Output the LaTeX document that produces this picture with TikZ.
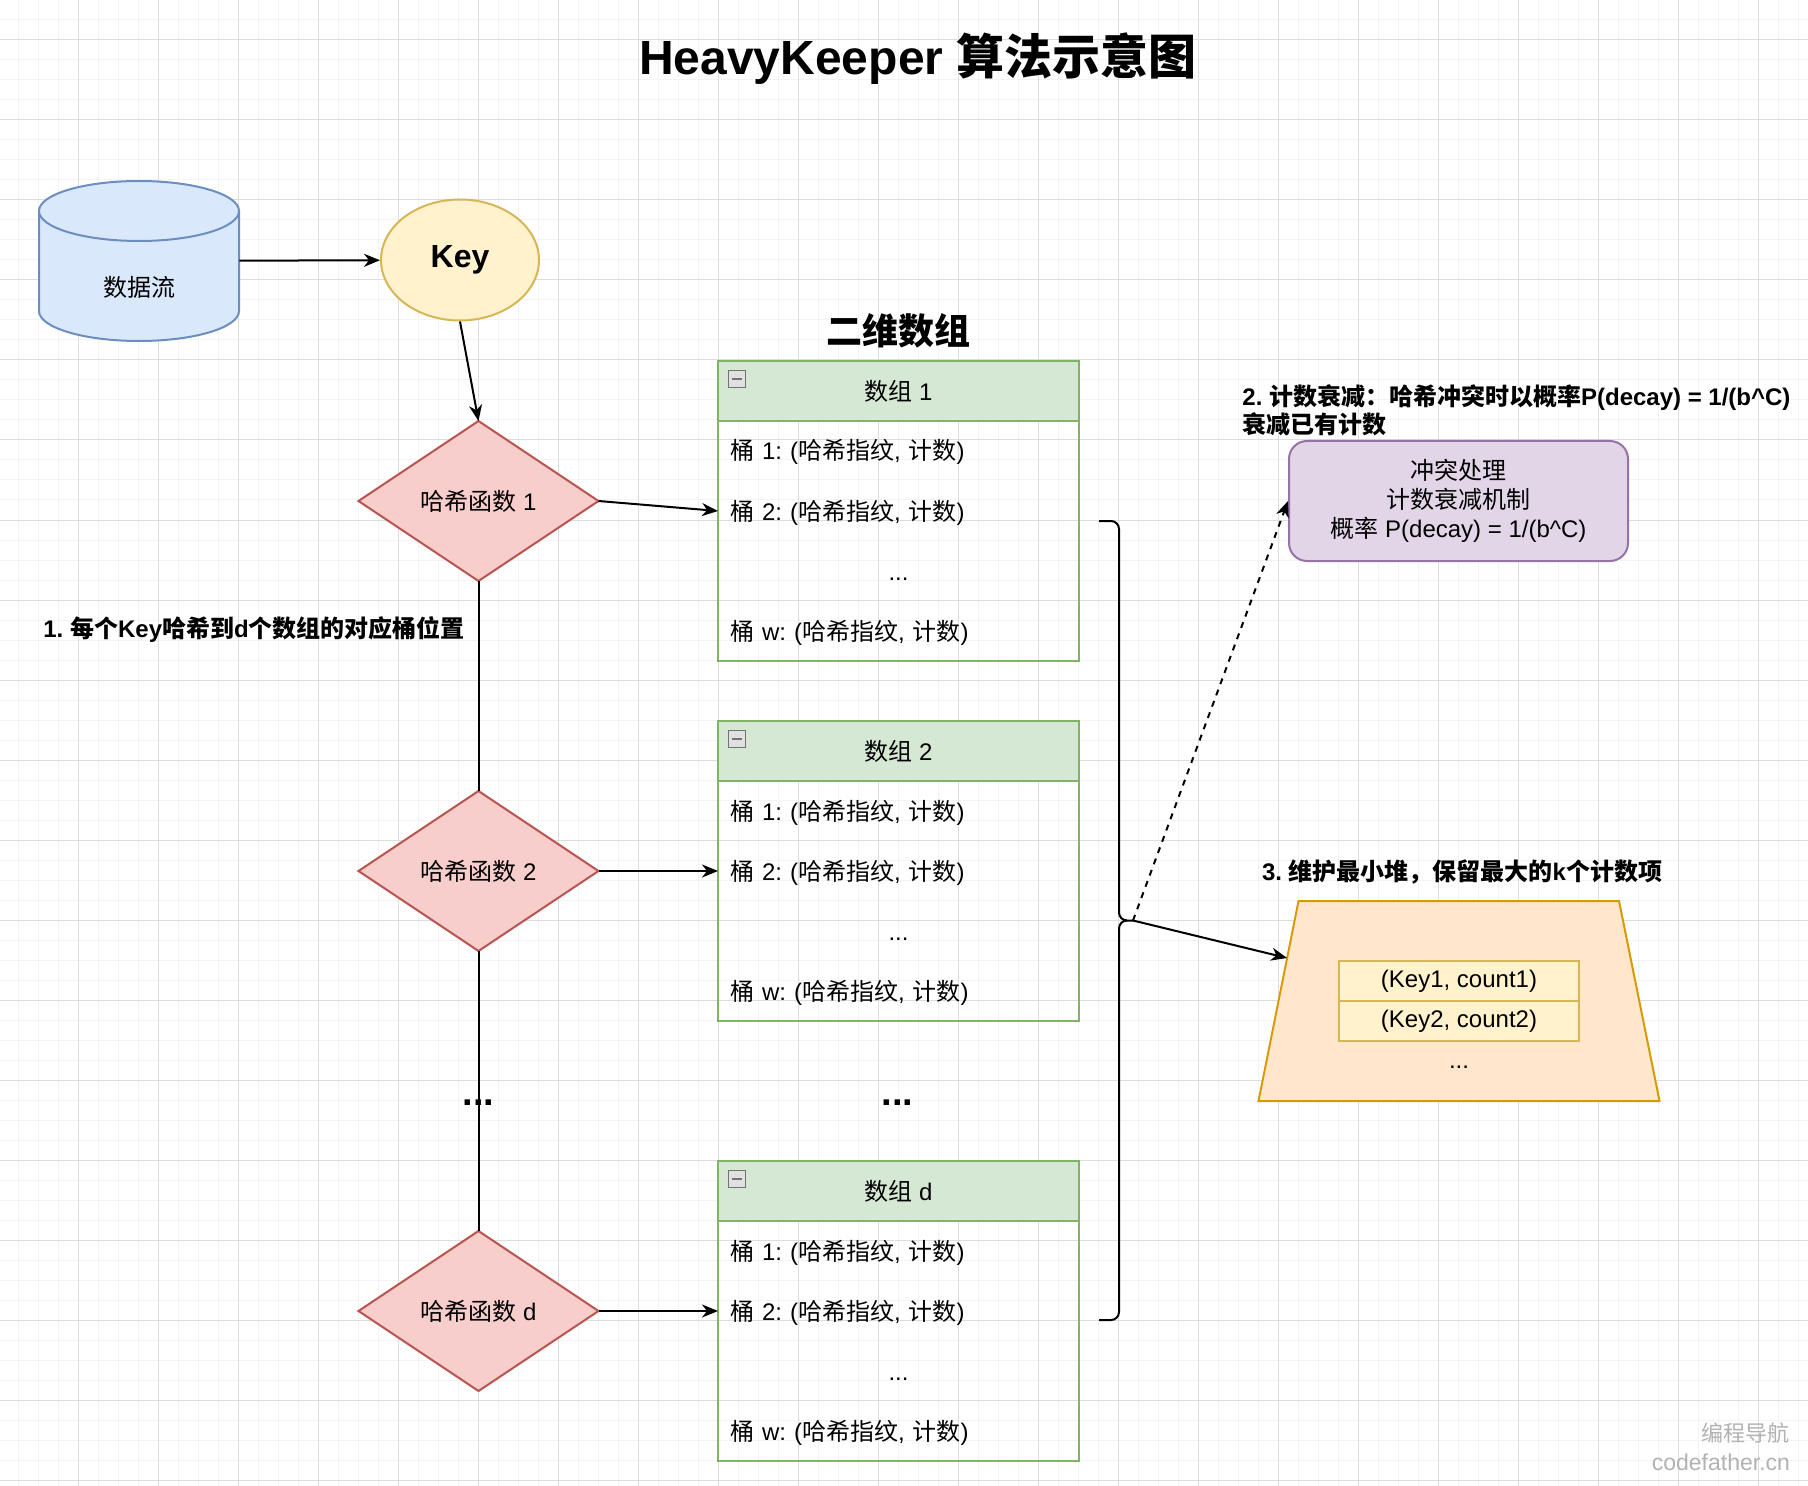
\documentclass[tikz,border=0pt]{standalone}
\usepackage{fontspec}
\setmainfont{Liberation Sans}
\newfontfamily\cjkfont{Noto Sans CJK SC}
\usepackage{tikz}
\usetikzlibrary{arrows.meta,positioning,shapes.geometric,calc}
\usepackage{xcolor}
\definecolor{streamFill}{RGB}{218,232,252}
\definecolor{streamLine}{RGB}{108,142,191}
\definecolor{keyFill}{RGB}{255,242,204}
\definecolor{keyLine}{RGB}{214,182,86}
\definecolor{hashFill}{RGB}{248,206,204}
\definecolor{hashLine}{RGB}{184,84,80}
\definecolor{arrFill}{RGB}{213,232,212}
\definecolor{arrLine}{RGB}{130,179,102}
\definecolor{decayFill}{RGB}{225,213,231}
\definecolor{decayLine}{RGB}{150,115,166}
\definecolor{heapFill}{RGB}{255,230,204}
\definecolor{heapLine}{RGB}{215,155,0}
\definecolor{gridMinor}{RGB}{243,243,243}
\definecolor{gridMajor}{RGB}{221,221,221}

% CJK runs in Noto Sans CJK SC, the rest in Liberation Sans
\XeTeXinterchartokenstate=1
\newXeTeXintercharclass\cjkclass
\newcount\cjkchar
\newcommand\cjkrange[2]{\cjkchar=#1\relax
  \loop\XeTeXcharclass\cjkchar=\cjkclass
  \ifnum\cjkchar<#2\relax\advance\cjkchar by 1\repeat}
\cjkrange{"3000}{"303F}
\cjkrange{"4E00}{"9FFF}
\cjkrange{"FF00}{"FFEF}
\XeTeXinterchartoks 0 \cjkclass={\begingroup\cjkfont}
\XeTeXinterchartoks 4095 \cjkclass={\begingroup\cjkfont}
\XeTeXinterchartoks \cjkclass 0={\endgroup}
\XeTeXinterchartoks \cjkclass 4095={\endgroup}

\begin{document}
\frenchspacing
\begin{tikzpicture}[
  x=0.5pt, y=0.5pt,
  font=\fontsize{12pt}{14.4pt}\selectfont,
  gridminor/.style={draw=gridMinor, line width=0.5pt},
  gridmajor/.style={draw=gridMajor, line width=0.5pt},
  keynode/.style={ellipse, draw=keyLine, fill=keyFill, line width=1pt, minimum width=79pt, minimum height=60.5pt,
                  inner sep=0pt, font=\fontsize{16pt}{19pt}\selectfont\bfseries},
  hashfn/.style={diamond, draw=hashLine, fill=hashFill, line width=1pt, minimum width=120pt, minimum height=80pt,
                 inner sep=0pt, outer sep=0pt},
  arrhead/.style={draw=arrLine, fill=arrFill, line width=1pt, minimum width=180.5pt, minimum height=30pt,
                  inner sep=0pt, outer sep=0pt},
  bucket/.style={minimum width=180.5pt, minimum height=30pt, text width=168.5pt, inner xsep=6pt, inner ysep=0pt,
                 outer sep=0pt, align=left, text height=11pt, text depth=2pt},
  minusbox/.style={draw=black!55, fill=black!12, line width=0.5pt, minimum size=8.5pt, inner sep=0pt,
                   path picture={\draw[line width=0.9pt] ([xshift=-2.6pt]path picture bounding box.center)
                                 -- ([xshift=2.6pt]path picture bounding box.center);}},
  decaybox/.style={draw=decayLine, fill=decayFill, line width=1pt, rounded corners=9pt, minimum width=169.5pt,
                   minimum height=60pt, align=center},
  heapshape/.style={draw=heapLine, fill=heapFill, line width=1pt},
  heapitem/.style={draw=keyLine, fill=keyFill, line width=1pt, minimum width=120pt, minimum height=20pt,
                   inner sep=0pt, outer sep=0pt},
  note/.style={font=\fontsize{12pt}{14pt}\selectfont\bfseries, inner sep=0pt, align=left},
  bigdots/.style={font=\fontsize{19pt}{22pt}\selectfont\bfseries, inner sep=0pt, anchor=base},
  arr/.style={-{Stealth[length=8pt, width=6.5pt, inset=2.5pt]}, line width=1pt, black},
  link/.style={line width=1pt, black}
]
\useasboundingbox (0,0) rectangle (1808,-1486);

% Background grid
\fill[white] (0,0) rectangle (1808,-1486);
\foreach \gx in {18.3,38.3,...,1808} \draw[gridminor] (\gx,0) -- (\gx,-1486);
\foreach \gy in {0,20,...,1486} \draw[gridminor] (0,-\gy) -- (1808,-\gy);
\foreach \gx in {78.3,158.3,...,1808} \draw[gridmajor] (\gx,0) -- (\gx,-1486);
\foreach \gy in {40,120,...,1486} \draw[gridmajor] (0,-\gy) -- (1808,-\gy);

% Title
\node[font=\fontsize{24pt}{28pt}\selectfont\bfseries] (title) at (918,-59) {HeavyKeeper 算法示意图};

% Data stream and key
\node[minimum width=100pt, minimum height=80pt, inner sep=0pt] (stream) at (139,-261) {};
\fill[streamFill] (39,-211) rectangle (239,-311);
\fill[streamFill] (139,-311) ellipse [x radius=50pt, y radius=15pt];
\draw[streamLine, line width=1pt] (39,-211) -- (39,-311) arc[start angle=180, end angle=360, x radius=50pt, y radius=15pt] -- (239,-211);
\draw[streamLine, line width=1pt, fill=streamFill] (139,-211) ellipse [x radius=50pt, y radius=15pt];
\node (streamtxt) at (139,-287) {数据流};
\node[keynode] (key) at (460,-260) {Key};

% Hash functions
\node[hashfn] (hash1) at (478.5,-501) {哈希函数 1};
\node[hashfn, below=105pt of hash1] (hash2) {哈希函数 2};
\node[hashfn, below=140pt of hash2] (hashd) {哈希函数 d};
\node[bigdots] (hashdots) at (478.5,-1105.5) {...};
\node[note, anchor=west] (step1) at (43,-630) {1. 每个Key哈希到d个数组的对应桶位置};

% Two-dimensional array
\node[font=\fontsize{18pt}{22pt}\selectfont\bfseries] (gridtitle) at (898,-331) {二维数组};

\node[arrhead] (arr1) at (898.5,-391) {数组 1};
\node[minusbox] (arr1min) at ($(arr1.north west)+(19,-18)$) {};
\node[bucket, below=0pt of arr1] (arr1b1) {桶 1: (哈希指纹, 计数)};
\node[bucket, below=0pt of arr1b1] (arr1b2) {桶 2: (哈希指纹, 计数)};
\node[bucket, below=0pt of arr1b2, align=center] (arr1b3) {...};
\node[bucket, below=0pt of arr1b3] (arr1bw) {桶 w: (哈希指纹, 计数)};
\draw[arrLine, line width=1pt] (arr1.south west) rectangle (arr1bw.south east);

\node[arrhead, below=30pt of arr1bw] (arr2) {数组 2};
\node[minusbox] (arr2min) at ($(arr2.north west)+(19,-18)$) {};
\node[bucket, below=0pt of arr2] (arr2b1) {桶 1: (哈希指纹, 计数)};
\node[bucket, below=0pt of arr2b1] (arr2b2) {桶 2: (哈希指纹, 计数)};
\node[bucket, below=0pt of arr2b2, align=center] (arr2b3) {...};
\node[bucket, below=0pt of arr2b3] (arr2bw) {桶 w: (哈希指纹, 计数)};
\draw[arrLine, line width=1pt] (arr2.south west) rectangle (arr2bw.south east);

\node[bigdots] (arrdots) at (897.5,-1105.5) {...};

\node[arrhead, below=70pt of arr2bw] (arrd) {数组 d};
\node[minusbox] (arrdmin) at ($(arrd.north west)+(19,-18)$) {};
\node[bucket, below=0pt of arrd] (arrdb1) {桶 1: (哈希指纹, 计数)};
\node[bucket, below=0pt of arrdb1] (arrdb2) {桶 2: (哈希指纹, 计数)};
\node[bucket, below=0pt of arrdb2, align=center] (arrdb3) {...};
\node[bucket, below=0pt of arrdb3] (arrdbw) {桶 w: (哈希指纹, 计数)};
\draw[arrLine, line width=1pt] (arrd.south west) rectangle (arrdbw.south east);

% Brace over the d arrays
\draw[link] (1099,-521) -- (1111,-521) arc[start angle=90, end angle=0, radius=4pt] -- (1119,-912.5)
  arc[start angle=180, end angle=270, radius=4pt] -- ++(6,0) coordinate (bracetip);
\draw[link] (1099,-1320) -- (1111,-1320) arc[start angle=270, end angle=360, radius=4pt] -- (1119,-928.5)
  arc[start angle=180, end angle=90, radius=4pt];

% Collision handling
\node[note, anchor=north west] (step2) at (1242,-384) {2. 计数衰减：哈希冲突时以概率P(decay) = 1/(b\textasciicircum C)\\衰减已有计数};
\node[decaybox] (decay) at (1458.5,-501) {冲突处理\\计数衰减机制\\概率 P(decay) = 1/(b\textasciicircum C)};

% Min heap
\node[note] (step3) at (1462,-872) {3. 维护最小堆，保留最大的k个计数项};
\draw[heapshape] (1258.5,-1101) coordinate (heapbl) -- (1298.5,-901) coordinate (heaptl)
  -- (1619,-901) -- (1659.5,-1101) -- cycle;
\coordinate (heapin) at ($(heapbl)!0.715!(heaptl)$);
\node[heapitem] (heapk1) at (1459,-981) {(Key1, count1)};
\node[heapitem, below=0pt of heapk1] (heapk2) {(Key2, count2)};
\node[anchor=base] (heapdots) at (1459,-1068) {...};

% Watermark
\node[anchor=east, text=black!30, font=\fontsize{11pt}{13pt}\selectfont] (wm1) at (1797,-1433) {编程导航};
\node[anchor=east, text=black!30, font=\fontsize{11.5pt}{13pt}\selectfont] (wm2) at (1797,-1462) {codefather.cn};

% Connections
\draw[arr] (stream) -- (key);
\draw[arr] (key.south) -- (hash1.north);
\draw[link] (hash1.south) -- (hash2.north);
\draw[link] (hash2.south) -- (hashd.north);
\draw[arr] (hash1.east) -- (arr1b2.west);
\draw[arr] (hash2.east) -- (arr2b2.west);
\draw[arr] (hashd.east) -- (arrdb2.west);
\draw[arr, dash pattern=on 3pt off 3pt] (bracetip) -- (decay.west);
\draw[arr] (bracetip) -- (heapin);

\end{tikzpicture}
\end{document}
